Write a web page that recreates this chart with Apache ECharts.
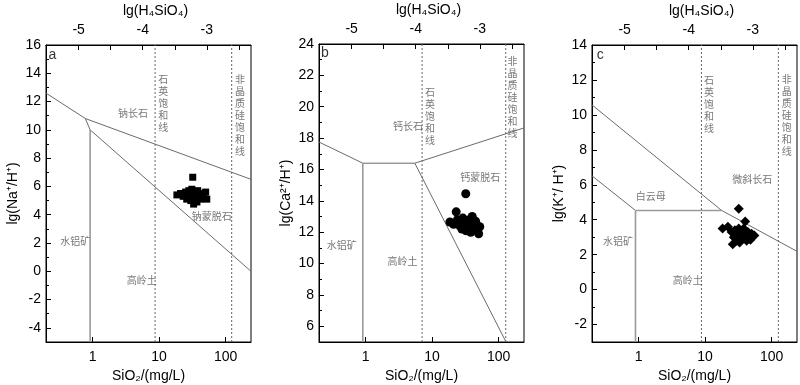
<!DOCTYPE html>
<html><head><meta charset="utf-8">
<script src="https://cdn.jsdelivr.net/npm/echarts@6/dist/echarts.min.js"></script>
<style>html,body{margin:0;padding:0;background:#fff}#chart{width:800px;height:385px}</style>
</head><body><div id="chart"></div>
<script>
// ---------- shared axes ----------
const xMin = 0.2, xMax = 240;                 // SiO2 (mg/L), log axis
const topMin = -5.51, topMax = -2.31;         // lg(H4SiO4)
const xTickLabels = [1, 10, 100];
const topTickLabels = [-5, -4, -3];
const topTicks = [-5.5, -5, -4.5, -4, -3.5, -3, -2.5];

// ---------- panel a : Na ----------
const yRangeA = [-5, 16];
const yMajorA = [-4, -2, 0, 2, 4, 6, 8, 10, 12, 14, 16];
const yMinorA = [-5, -3, -1, 1, 3, 5, 7, 9, 11, 13, 15];
const albiteA = [[0.2, 12.6], [0.78, 10.8], [240, 6.5]];
const gibbsiteAlbiteA = [[0.78, 10.8], [0.92, 10]];
const kaoliniteSmectiteA = [[0.92, 10], [240, 0]];
const gibbsiteKaoliniteA = [[0.92, 10], [0.92, -5]];
const quartzA = 8.7, amorphousA = 123;
const samplesA = [[18.5,5.4],[21,5.5],[23,5.3],[25,5.6],[26,5.1],[28,5.7],[29,5.35],[30,5.0],[31,5.8],[32,5.5],[33,4.75],[33,5.2],[34,5.6],[36,5.3],[37,4.9],[38,5.7],[40,5.4],[42,5.1],[44,5.5],[47,5.3],[50,5.6],[52,5.1],[32,6.65]];
const labelsA = [
  {t:'钠长石', x:4.07, y:11.2},
  {t:'石\n英\n饱\n和\n线', x:11.5, y:11.85},
  {t:'非\n晶\n质\n硅\n饱\n和\n线', x:164, y:11.06},
  {t:'钠蒙脱石', x:61.6, y:3.93},
  {t:'水铝矿', x:0.55, y:2.12},
  {t:'高岭土', x:5.5, y:-0.65}
];

// ---------- panel b : Ca ----------
const yRangeB = [5, 24];
const yMajorB = [6, 8, 10, 12, 14, 16, 18, 20, 22, 24];
const yMinorB = [5, 7, 9, 11, 13, 15, 17, 19, 21, 23];
const anorthiteLeftB = [[0.2, 17.75], [0.91, 16.4]];
const anorthiteKaoliniteB = [[0.91, 16.4], [5.5, 16.4]];
const anorthiteSmectiteB = [[5.5, 16.4], [240, 18.65]];
const kaoliniteSmectiteB = [[5.5, 16.4], [129, 5]];
const gibbsiteKaoliniteB = [[0.91, 16.4], [0.91, 5]];
const quartzB = 7.07, amorphousB = 127.6;
const samplesB = [[18.5,12.65],[21,12.5],[23,13.3],[24,12.8],[26,12.4],[27,12.7],[28,12.2],[29,12.9],[30,12.5],[32,12.1],[33,12.6],[35,12.3],[36,12.8],[38,12.0],[40,13.0],[41,12.5],[43,12.2],[45,12.7],[48,12.4],[50,11.9],[52,12.35],[32,14.45]];
const labelsB = [
  {t:'钙长石', x:4.35, y:18.74},
  {t:'石\n英\n饱\n和\n线', x:9.3, y:19.42},
  {t:'非\n晶\n质\n硅\n饱\n和\n线', x:161, y:20.6},
  {t:'钙蒙脱石', x:53, y:15.52},
  {t:'水铝矿', x:0.44, y:11.16},
  {t:'高岭土', x:3.6, y:10.18}
];

// ---------- panel c : K ----------
const yRangeC = [-3, 14];
const yMajorC = [-2, 0, 2, 4, 6, 8, 10, 12, 14];
const yMinorC = [-3, -1, 1, 3, 5, 7, 9, 11, 13];
const microclineC = [[0.2, 10.57], [17.7, 4.53], [240, 2.19]];
const muscoviteGibbsiteC = [[0.2, 6.51], [0.9, 4.53]];
const muscoviteKaoliniteC = [[0.9, 4.53], [17.7, 4.53]];
const gibbsiteKaoliniteC = [[0.9, 4.53], [0.9, -3]];
const quartzC = 8.8, amorphousC = 126;
const samplesC = [[18.3,3.5],[22,3.6],[25,3.3],[26,2.6],[27,3.0],[28,3.4],[30,2.8],[31,3.2],[32,3.5],[33,2.7],[34,3.0],[35,3.3],[36,2.9],[38,3.5],[40,3.1],[42,2.8],[44,3.3],[46,3.0],[48,2.85],[50,3.2],[55,3.1],[32,4.63],[40,3.9]];
const labelsC = [
  {t:'石\n英\n饱\n和\n线', x:11.4, y:10.63},
  {t:'非\n晶\n质\n硅\n饱\n和\n线', x:169, y:10.0},
  {t:'微斜长石', x:51, y:6.29},
  {t:'白云母', x:1.52, y:5.33},
  {t:'水铝矿', x:0.49, y:2.76},
  {t:'高岭土', x:5.5, y:0.51}
];

const letters = [{t:'a', x:0.25, y:15.3}, {t:'b', x:0.245, y:23.4}, {t:'c', x:0.265, y:13.43}];

const FONT = 'Liberation Sans, Arial, sans-serif';
const CJK = 'Noto Sans CJK SC, sans-serif';

const panels = [
  {grid:{left:46, top:45, width:205, height:297}, yr:yRangeA, major:yMajorA, minor:yMinorA, ytitle:'lg(Na⁺/H⁺)',
   solid:[albiteA, kaoliniteSmectiteA, gibbsiteAlbiteA], gray:[gibbsiteKaoliniteA], q:quartzA, am:amorphousA,
   samples:samplesA, symbol:'rect', size:7, labels:labelsA, letter:letters[0]},
  {grid:{left:319, top:44, width:205, height:298}, yr:yRangeB, major:yMajorB, minor:yMinorB, ytitle:'lg(Ca²⁺/H⁺)',
   solid:[anorthiteLeftB, anorthiteKaoliniteB, anorthiteSmectiteB, kaoliniteSmectiteB], gray:[gibbsiteKaoliniteB], q:quartzB, am:amorphousB,
   samples:samplesB, symbol:'circle', size:9, labels:labelsB, letter:letters[1]},
  {grid:{left:592, top:45, width:205, height:297}, yr:yRangeC, major:yMajorC, minor:yMinorC, ytitle:'lg(K⁺/ H⁺)',
   solid:[microclineC, muscoviteGibbsiteC], gray:[muscoviteKaoliniteC, gibbsiteKaoliniteC], q:quartzC, am:amorphousC,
   samples:samplesC, symbol:'diamond', size:10, labels:labelsC, letter:letters[2]}
];

const grids = [], xAxes = [], yAxes = [], series = [];
panels.forEach((p, i) => {
  grids.push(Object.assign({show:true, borderColor:'#000', borderWidth:1, containLabel:false, outerBoundsMode:'none'}, p.grid));
  const lineStyle = {color:'#000', width:1};
  xAxes.push({
    gridIndex:i, type:'log', logBase:10, min:xMin, max:xMax, position:'bottom',
    name:'SiO₂/(mg/L)', nameLocation:'middle', nameGap:21,
    nameTextStyle:{fontFamily:FONT, fontSize:14, color:'#000'},
    axisLine:{show:true, onZero:false, lineStyle}, splitLine:{show:false}, minorTick:{show:false},
    axisTick:{show:true, inside:true, length:5, lineStyle},
    axisLabel:{fontFamily:FONT, fontSize:14, color:'#000', margin:8, showMinLabel:false, showMaxLabel:false,
      formatter:v => { const l = Math.log10(v); return (Math.abs(l - Math.round(l)) < 1e-6 && xTickLabels.includes(Math.round(v))) ? String(Math.round(v)) : ''; }}
  });
  xAxes.push({
    gridIndex:i, type:'value', min:topMin, max:topMax, position:'top',
    name:'lg(H₄SiO₄)', nameLocation:'middle', nameGap:26,
    nameTextStyle:{fontFamily:FONT, fontSize:14, color:'#000', padding:[0,0,0,14]},
    axisLine:{show:true, onZero:false, lineStyle}, splitLine:{show:false},
    axisTick:{show:true, inside:true, length:5, lineStyle, customValues:topTicks},
    axisLabel:{fontFamily:FONT, fontSize:14, color:'#000', margin:8, customValues:topTickLabels}
  });
  yAxes.push({
    gridIndex:i, type:'value', min:p.yr[0], max:p.yr[1], position:'left',
    name:p.ytitle, nameLocation:'middle', nameGap:26,
    nameTextStyle:{fontFamily:FONT, fontSize:14, color:'#000'},
    axisLine:{show:true, onZero:false, lineStyle}, splitLine:{show:false},
    axisTick:{show:true, inside:true, length:5, lineStyle, customValues:p.major},
    axisLabel:{fontFamily:FONT, fontSize:14, color:'#000', margin:5, customValues:p.major}
  });
  yAxes.push({
    gridIndex:i, type:'value', min:p.yr[0], max:p.yr[1], position:'right', offset:-p.grid.width,
    axisLine:{show:false, onZero:false}, splitLine:{show:false}, axisLabel:{show:false},
    axisTick:{show:true, inside:false, length:3, lineStyle, customValues:p.minor}
  });
  const xi = 2*i, yi = 2*i;
  p.solid.forEach(d => series.push({type:'line', xAxisIndex:xi, yAxisIndex:yi, data:d, symbol:'none', silent:true,
    lineStyle:{color:'#6b6b6b', width:1}, z:2}));
  p.gray.forEach(d => series.push({type:'line', xAxisIndex:xi, yAxisIndex:yi, data:d, symbol:'none', silent:true,
    lineStyle:{color:'#9a9a9a', width:1.6}, z:2}));
  [p.q, p.am].forEach(x => series.push({type:'line', xAxisIndex:xi, yAxisIndex:yi, data:[[x, p.yr[0]], [x, p.yr[1]]],
    symbol:'none', silent:true, lineStyle:{color:'#666', width:1, type:[2,2]}, z:2}));
  series.push({type:'scatter', xAxisIndex:xi, yAxisIndex:yi, data:p.samples, symbol:p.symbol, symbolSize:p.size,
    itemStyle:{color:'#000', opacity:1, borderWidth:0}, z:5});
  series.push({type:'scatter', xAxisIndex:xi, yAxisIndex:yi, silent:true, symbolSize:1, itemStyle:{color:'rgba(0,0,0,0)'},
    data:p.labels.map(l => ({name:l.t, value:[l.x, l.y]})),
    label:{show:true, position:'inside', formatter:'{b}', fontFamily:CJK, fontSize:10, lineHeight:12, color:'#555', align:'center', verticalAlign:'middle'}, z:6});
  series.push({type:'scatter', xAxisIndex:xi, yAxisIndex:yi, silent:true, symbolSize:1, itemStyle:{color:'rgba(0,0,0,0)'},
    data:[{name:p.letter.t, value:[p.letter.x, p.letter.y]}],
    label:{show:true, position:'inside', formatter:'{b}', fontFamily:FONT, fontSize:14, color:'#000'}, z:6});
});

const chart = echarts.init(document.getElementById('chart'), null, {renderer:'canvas'});
chart.setOption({animation:false, backgroundColor:'#fff', grid:grids, xAxis:xAxes, yAxis:yAxes, series});
</script></body></html>
